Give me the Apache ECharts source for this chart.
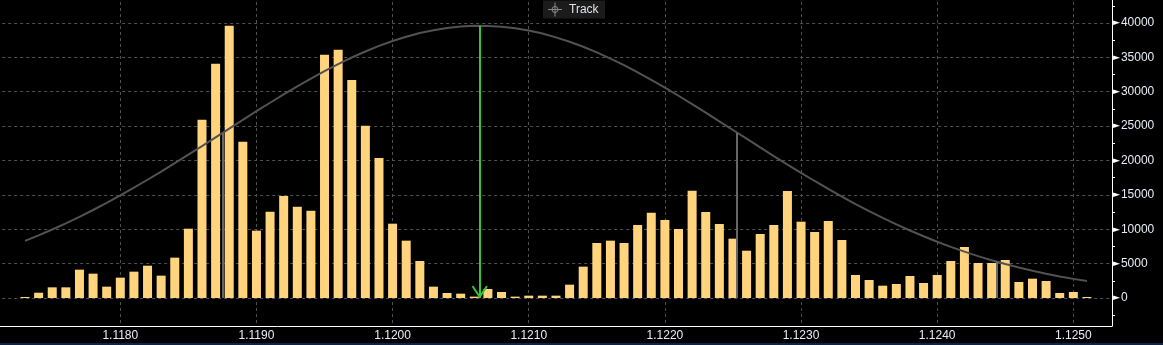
<!DOCTYPE html>
<html>
<head>
<meta charset="utf-8">
<script src="https://cdn.jsdelivr.net/npm/echarts@6/dist/echarts.min.js"></script>
<style>
html,body{margin:0;padding:0;background:#000;}
#chart{width:1163px;height:345px;}
</style>
</head>
<body>
<div id="chart"></div>
<script>
// Price levels (x categories)
const prices = [1.1173,1.1174,1.1175,1.1176,1.1177,1.1178,1.1179,1.1180,1.1181,1.1182,
1.1183,1.1184,1.1185,1.1186,1.1187,1.1188,1.1189,1.1190,1.1191,1.1192,
1.1193,1.1194,1.1195,1.1196,1.1197,1.1198,1.1199,1.1200,1.1201,1.1202,
1.1203,1.1204,1.1205,1.1206,1.1207,1.1208,1.1209,1.1210,1.1211,1.1212,
1.1213,1.1214,1.1215,1.1216,1.1217,1.1218,1.1219,1.1220,1.1221,1.1222,
1.1223,1.1224,1.1225,1.1226,1.1227,1.1228,1.1229,1.1230,1.1231,1.1232,
1.1233,1.1234,1.1235,1.1236,1.1237,1.1238,1.1239,1.1240,1.1241,1.1242,
1.1243,1.1244,1.1245,1.1246,1.1247,1.1248,1.1249,1.1250,1.1251];

// Volume at each price (bars)
const volumes = [150,770,1550,1550,4120,3540,1650,2960,3830,4700,
3250,5870,10080,25940,34080,39610,22740,9790,12560,14840,
13280,12700,35390,36120,31710,25060,20360,10810,8340,5380,
1650,730,630,200,1310,870,200,340,340,340,
1940,4560,8000,8340,8000,10620,12410,11350,10040,15610,
12510,10760,8630,6880,9310,10620,15560,11100,9600,11200,
8440,3350,2620,1790,2040,3200,2180,3350,5380,7420,
5090,5090,5530,2330,2810,2470,730,870,150];

// Distribution curve read at each price
const curve = [8310,9110,9960,10860,11800,12800,13840,14920,16040,17200,
18390,19610,20850,22100,23370,24640,25910,27170,28400,29610,
30790,31920,33000,34020,34980,35860,36670,37380,38000,38540,
38960,39280,39490,39590,39580,39460,39230,38900,38460,37910,
37280,36540,35730,34830,33860,32830,31740,30600,29420,28200,
26960,25700,24440,23170,21900,20650,19410,18200,17020,15860,
14750,13670,12640,11650,10710,9820,8980,8180,7440,6740,
6090,5500,4940,4430,3960,3530,3140,2780,2460];

// Mean marker (green arrow) and sigma markers (grey)
const meanMarker = [1.12064, 39600];
const sigmaMarkers = [[1.11875, 24000],[1.12253, 24000],[1.12444, 5300]];

const chart = echarts.init(document.getElementById('chart'), null, {renderer:'canvas'});

const barData = prices.map((p,i)=>[p, volumes[i]]);
const lineData = prices.map((p,i)=>[p, curve[i]]);

const labelColor = '#e6ecf5';
const gridColor = '#505050';

const markData = [
  [{coord:[meanMarker[0], meanMarker[1]], symbol:'none', lineStyle:{color:'#33c733', width:2, type:'solid'}},
   {coord:[meanMarker[0], 0], symbol:'path://M8,0 L16,12 L14.4,13.2 L8,3.4 L1.6,13.2 L0,12 Z', symbolSize:[16,13], symbolOffset:[0, 6]}]
];
sigmaMarkers.forEach(function(m){
  markData.push([
    {coord:[m[0], 0], symbol:'none', lineStyle:{color:'#666666', width:2, type:'solid'}},
    {coord:[m[0], m[1]], symbol:'none'}
  ]);
});

const option = {
  backgroundColor: '#000',
  animation: false,
  grid: {left: -15.84, right: 51, top: -10, bottom: 19, containLabel: false, outerBoundsMode: 'none'},
  xAxis: {
    type: 'value',
    min: 1.1170,
    max: 1.125284,
    interval: 0.001,
    axisLine: {show: true, onZero: false, lineStyle: {color: '#ffffff', width: 1}},
    axisTick: {show: false},
    splitLine: {show: true, lineStyle: {color: gridColor, type: [3,3], width: 1}},
    axisLabel: {
      margin: 4,
      color: labelColor,
      fontFamily: 'Liberation Sans',
      fontSize: 12,
      formatter: function(v){
        const k = v*1000;
        if (Math.abs(k - Math.round(k)) > 1e-6) return '';
        if (v < 1.1175) return '';
        return v.toFixed(4);
      }
    }
  },
  yAxis: {
    type: 'value',
    position: 'right',
    min: -4073,
    max: 44800,
    splitNumber: 10,
    axisLine: {show: true, onZero: false, lineStyle: {color: '#ffffff', width: 1}},
    axisTick: {show: false},
    minorTick: {show: true, splitNumber: 2, length: 3, lineStyle: {color: '#ffffff', width: 1}},
    splitLine: {show: true, lineStyle: {color: gridColor, type: [3,3], width: 1}},
    axisLabel: {
      margin: 1,
      formatter: function(v){
        if (v < 0 || Math.abs(v % 5000) > 1e-6) return '';
        return '{t|\u25BA}{v|' + v + '}';
      },
      rich: {
        t: {fontSize: 9, color: '#ffffff', fontFamily: 'DejaVu Sans', padding: [0,1,0,0]},
        v: {fontSize: 12, color: labelColor, fontFamily: 'Liberation Sans'}
      }
    }
  },
  series: [
    {
      type: 'bar',
      data: barData,
      barWidth: 9,
      itemStyle: {color: '#ffd47c'},
      silent: true,
      z: 2
    },
    {
      type: 'line',
      data: lineData,
      symbol: 'none',
      smooth: false,
      lineStyle: {color: '#525252', width: 2},
      silent: true,
      z: 3,
      markLine: {
        silent: true,
        animation: false,
        z: 6,
        label: {show: false},
        emphasis: {disabled: true},
        data: markData
      }
    }
  ],
  graphic: [
    {
      type: 'group', left: 543, top: 0,
      children: [
        {type:'rect', shape:{x:0,y:0,width:62,height:18}, style:{fill:'#1b1b1b'}},
        {type:'circle', shape:{cx:12,cy:9,r:3}, style:{fill:'none', stroke:'#8a8a8a', lineWidth:1}},
        {type:'line', shape:{x1:5,y1:9,x2:19,y2:9}, style:{stroke:'#8a8a8a', lineWidth:1}},
        {type:'line', shape:{x1:12,y1:2,x2:12,y2:16}, style:{stroke:'#8a8a8a', lineWidth:1}},
        {type:'text', x:26, y:9, style:{text:'Track', fill:'#e0e4ea', font:'12px "Liberation Sans"', textVerticalAlign:'middle', verticalAlign:'middle'}}
      ]
    },
    {type:'rect', left:0, top:343, shape:{x:0,y:0,width:1163,height:2}, style:{fill:'#0e2247'}}
  ]
};
chart.setOption(option);
</script>
</body>
</html>
